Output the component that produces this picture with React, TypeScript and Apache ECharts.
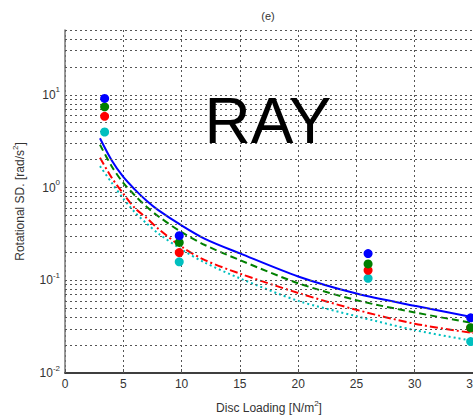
import React, { useEffect, useRef } from "react";
import * as echarts from "echarts";

// Fitted curves
const fitX = [3, 4, 5, 6, 7, 8, 10, 12, 15, 20, 25, 30, 35];
const blueFit = [3.4, 1.97, 1.3, 0.95, 0.72, 0.57, 0.39, 0.28, 0.195, 0.11, 0.072, 0.053, 0.04];
const greenFit = [2.9, 1.7, 1.12, 0.82, 0.62, 0.49, 0.33, 0.24, 0.165, 0.093, 0.061, 0.045, 0.0345];
const redFit = [2.1, 1.28, 0.86, 0.6, 0.47, 0.36, 0.23, 0.165, 0.118, 0.073, 0.048, 0.034, 0.027];
const cyanFit = [1.7, 1.13, 0.76, 0.54, 0.41, 0.32, 0.215, 0.155, 0.105, 0.06, 0.041, 0.029, 0.0222];

// Measured points
const measX = [3.4, 9.8, 26, 34.8];
const blueMeas = [9.15, 0.303, 0.194, 0.0394];
const greenMeas = [7.43, 0.256, 0.15, 0.0308];
const redMeas = [5.86, 0.199, 0.128, 0.0305];
const cyanMeas = [3.97, 0.158, 0.105, 0.0218];

// Axis settings
const xTicks = [0, 5, 10, 15, 20, 25, 30, 35];
const decades = [0.01, 0.1, 1, 10];
const gridMultipliers = [1, 2, 3, 4, 5, 6, 7, 8, 9];
const yMin = 0.01;
const yMax = 50;

const FONT = "'Liberation Sans', Arial, sans-serif";
const GRID_STYLE = { type: [2, 3] as number[], color: "#555", width: 1 };

const pairs = (xs: number[], ys: number[]) => xs.map((x, i) => [x, ys[i]]);

export default function App() {
  const ref = useRef<HTMLDivElement>(null);
  useEffect(() => {
    if (!ref.current) return;
    const chart = echarts.init(ref.current, null, { renderer: "svg" });
    const hLines: number[] = [];
    decades.forEach((d) =>
      gridMultipliers.forEach((m) => {
        const v = d * m;
        if (v > yMin * 1.0001 && v <= yMax * 1.0001) hLines.push(v);
      })
    );
    const fitSeries = (name: string, data: number[], color: string, type: any) => ({
      name,
      type: "line",
      data: pairs(fitX, data),
      smooth: 0.3,
      showSymbol: false,
      symbol: "none",
      lineStyle: { color, width: 2, type },
      z: 3,
    });
    const measSeries = (name: string, data: number[], color: string) => ({
      name,
      type: "scatter",
      data: pairs(measX, data),
      symbol: "circle",
      symbolSize: 9,
      itemStyle: { color, opacity: 1 },
      z: 5,
    });
    chart.setOption({
      animation: false,
      backgroundColor: "#fff",
      textStyle: { fontFamily: FONT },
      grid: { left: 65, top: 30, right: 0, bottom: 43, containLabel: false, outerBoundsMode: "none" },
      graphic: [
        {
          type: "text",
          x: 268,
          y: 16,
          style: { text: "(e)", fontSize: 11, fill: "#333", fontFamily: FONT, textAlign: "center", textVerticalAlign: "middle" },
        },
        {
          type: "text",
          x: 268,
          y: 121,
          z: 10,
          style: { text: "RAY", fontSize: 64, fill: "#000", fontFamily: FONT, textAlign: "center", textVerticalAlign: "middle" },
        },
      ],
      xAxis: {
        type: "value",
        min: xTicks[0],
        max: xTicks[xTicks.length - 1],
        interval: 5,
        name: "Disc Loading [N/m{s|2}]",
        nameLocation: "middle",
        nameGap: 26,
        nameTextStyle: {
          fontSize: 12,
          color: "#333",
          fontFamily: FONT,
          rich: { s: { fontSize: 8, verticalAlign: "top", lineHeight: 18, color: "#333", fontFamily: FONT } },
        },
        axisLine: { lineStyle: { color: "#000", width: 1.5 } },
        axisTick: { inside: true, length: 4, lineStyle: { color: "#555" } },
        axisLabel: { fontSize: 12, color: "#333", margin: 5, fontFamily: FONT },
        splitLine: { show: true, lineStyle: GRID_STYLE },
      },
      yAxis: {
        type: "log",
        logBase: 10,
        min: yMin,
        max: yMax,
        name: "Rotational SD. [rad/s{s|2}]",
        nameLocation: "middle",
        nameGap: 36,
        nameTextStyle: {
          fontSize: 12,
          color: "#333",
          fontFamily: FONT,
          rich: { s: { fontSize: 8, verticalAlign: "top", lineHeight: 18, color: "#333", fontFamily: FONT } },
        },
        axisLine: { show: true, lineStyle: { color: "#777", width: 1.5 } },
        axisTick: { show: false },
        axisLabel: {
          showMaxLabel: false,
          margin: 5,
          formatter: (v: number) => {
            const e = Math.log10(v);
            const r = Math.round(e);
            if (Math.abs(e - r) > 1e-6) return "";
            return "{b|10}{s|" + r + "}";
          },
          rich: {
            b: { fontSize: 12, color: "#333", fontFamily: FONT, verticalAlign: "middle", lineHeight: 18 },
            s: { fontSize: 8, color: "#333", fontFamily: FONT, verticalAlign: "top", lineHeight: 18 },
          },
        },
        splitLine: { show: false },
      },
      series: [
        {
          type: "line",
          data: [],
          silent: true,
          markLine: {
            silent: true,
            symbol: ["none", "none"],
            label: { show: false },
            lineStyle: GRID_STYLE,
            data: hLines.map((v) => ({ yAxis: v })),
          },
          z: 1,
        },
        fitSeries("blueFit", blueFit, "#0000ff", "solid"),
        fitSeries("greenFit", greenFit, "#008000", [7, 4]),
        fitSeries("redFit", redFit, "#ff0000", [8, 3, 2, 3]),
        fitSeries("cyanFit", cyanFit, "#00bfbf", [2, 3]),
        measSeries("cyan", cyanMeas, "#00bfbf"),
        measSeries("red", redMeas, "#ff0000"),
        measSeries("green", greenMeas, "#008000"),
        measSeries("blue", blueMeas, "#0000ff"),
      ],
    });
    return () => chart.dispose();
  }, []);
  return (
    <div
      ref={ref}
      style={{ position: "fixed", left: 0, top: 0, width: 473, height: 416, background: "#fff" }}
    />
  );
}
